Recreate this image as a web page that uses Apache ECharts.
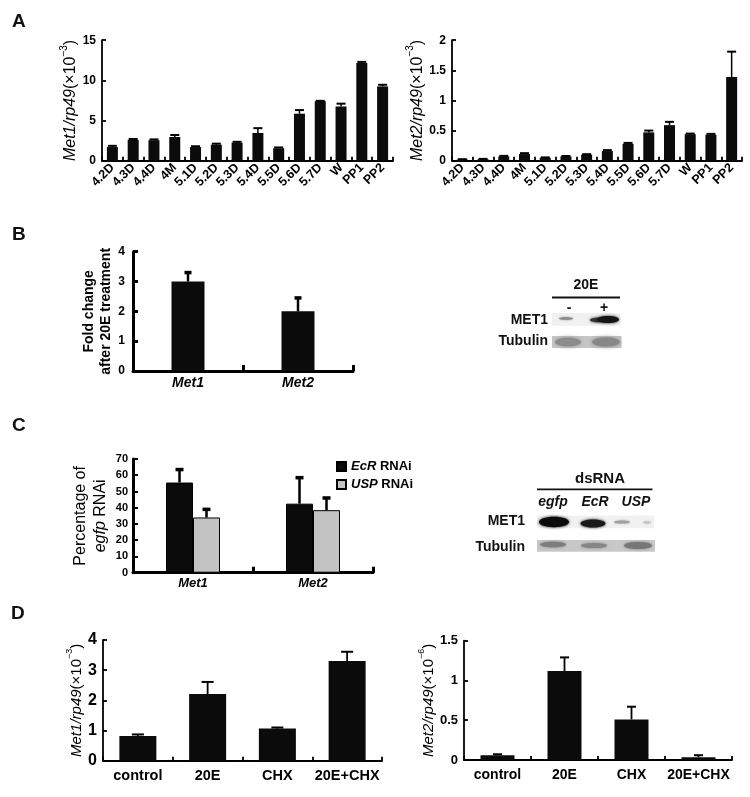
<!DOCTYPE html>
<html><head><meta charset="utf-8">
<script src="https://cdn.jsdelivr.net/npm/echarts@6/dist/echarts.min.js"></script>
<style>html,body{margin:0;padding:0;background:#fff}#c{width:750px;height:797px}</style>
</head><body><div id="c"></div>
<script>
// ---- data ----
const stages = ['4.2D','4.3D','4.4D','4M','5.1D','5.2D','5.3D','5.4D','5.5D','5.6D','5.7D','W','PP1','PP2'];
const met1Stage    = [1.7, 2.6, 2.55, 2.95, 1.7, 2.0, 2.25, 3.45, 1.55, 5.85, 7.4, 6.75, 12.15, 9.25];
const met1StageErr = [0.15, 0.1, 0.1, 0.25, 0.1, 0.12, 0.1, 0.6, 0.1, 0.45, 0.05, 0.35, 0.15, 0.2];
const met2Stage    = [0.02, 0.025, 0.07, 0.11, 0.05, 0.07, 0.1, 0.16, 0.28, 0.47, 0.59, 0.44, 0.43, 1.39];
const met2StageErr = [0.005, 0.005, 0.01, 0.015, 0.005, 0.008, 0.008, 0.015, 0.015, 0.03, 0.055, 0.01, 0.015, 0.42];
const genes = ['Met1','Met2'];
const foldChange    = [3.0, 2.0];
const foldChangeErr = [0.3, 0.45];
const ecrRNAi    = [55.5, 42.5];
const ecrRNAiErr = [8, 16];
const uspRNAi    = [34, 38.5];
const uspRNAiErr = [5, 7.5];
const treatments = ['control','20E','CHX','20E+CHX'];
const met1Treat    = [0.82, 2.21, 1.07, 3.3];
const met1TreatErr = [0.05, 0.4, 0.03, 0.31];
const met2Treat    = [0.06, 1.12, 0.51, 0.035];
const met2TreatErr = [0.012, 0.17, 0.16, 0.025];
const ticksA1 = [0, 5, 10, 15];
const ticksA2 = [0, 0.5, 1, 1.5, 2];
const ticksB  = [0, 1, 2, 3, 4];
const ticksC  = [0, 10, 20, 30, 40, 50, 60, 70];
const ticksD1 = [0, 1, 2, 3, 4];
const ticksD2 = [0, 0.5, 1, 1.5];

const FF = 'Liberation Sans, Arial, sans-serif';
const BLACK = '#0b0b0b';

function rng(t){ return {min:t[0], max:t[t.length-1], interval:t[1]-t[0]}; }

function yAxis(gi, ticks, o){
  const r = rng(ticks);
  return {
    type:'value', gridIndex:gi, min:r.min, max:r.max, interval:r.interval,
    splitLine:{show:false},
    axisLine:{show:true, lineStyle:{color:'#000', width:o.lw}},
    axisTick:{show:true, inside:true, length:o.tl||4, lineStyle:{color:'#000', width:o.tw||o.lw}},
    axisLabel:{color:'#000', fontFamily:FF, fontWeight:'bold', fontSize:o.fs, margin:o.lm||6},
    name:o.name, nameLocation:'middle', nameRotate:90, nameGap:o.ng,
    nameTextStyle:o.nts
  };
}
function xAxis(gi, cats, o){
  return {
    type:'category', gridIndex:gi, data:cats,
    axisLine:{show:true, lineStyle:{color:'#000', width:o.lw}},
    axisTick:{show:true, inside:true, length:o.tl||4, lineStyle:{color:'#000', width:o.tw||o.lw}},
    axisLabel:Object.assign({color:'#000', fontFamily:FF, fontWeight:'bold', fontSize:o.fs, margin:o.lm||6, interval:0}, o.lab||{})
  };
}
function ratioName(gene, exp){ return '{i|'+gene+'/rp49}{n|(×10}{s|−'+exp+'}{n|)}'; }
function ratioStyle(fs){
  return {
    color:'#000', fontFamily:FF, fontSize:fs,
    rich:{
      i:{fontStyle:'italic', fontSize:fs, fontFamily:FF, color:'#000', lineHeight:fs+4, verticalAlign:'bottom'},
      n:{fontSize:fs, fontFamily:FF, color:'#000', lineHeight:fs+4, verticalAlign:'bottom'},
      s:{fontSize:Math.round(fs*0.62), fontFamily:FF, color:'#000', lineHeight:fs+4, verticalAlign:'top'}
    }
  };
}
function errSeries(gi, vals, errs, o){
  return {
    type:'custom', xAxisIndex:gi, yAxisIndex:gi, silent:true, z:5,
    data: vals.map((v,i)=>[i, v, errs[i]]),
    encode:{x:0, y:1},
    renderItem:function(params, api){
      const i = api.value(0), v = api.value(1), e = api.value(2);
      const b = api.coord([i, v]); const t = api.coord([i, v + e]);
      const x = b[0] + (o.off||0);
      return {type:'group', children:[
        {type:'line', shape:{x1:x, y1:b[1], x2:x, y2:t[1]}, style:{stroke:'#000', lineWidth:o.lw}},
        {type:'line', shape:{x1:x-o.cap, y1:t[1], x2:x+o.cap, y2:t[1]}, style:{stroke:'#000', lineWidth:o.cw}}
      ]};
    }
  };
}

const grids = [
  {left:102, top:40.2, width:291, height:120.5},   // A1
  {left:452, top:40.2, width:290, height:120.5},   // A2
  {left:133, top:251.7, width:220, height:119.3},  // B
  {left:133, top:459, width:240, height:113.7},    // C
  {left:103, top:640, width:279, height:120.7},    // D1
  {left:464, top:640.7, width:268, height:119.3}   // D2
];

const xLabA = {rotate:45, fontSize:12.5, margin:5};
const xAxes = [
  xAxis(0, stages, {lw:1.8, fs:12.5, lab:xLabA}),
  xAxis(1, stages, {lw:1.8, fs:12.5, lab:xLabA}),
  xAxis(2, genes, {lw:3, tw:3, tl:6, fs:14, lm:5, lab:{fontStyle:'italic'}}),
  xAxis(3, genes, {lw:3, tw:3, tl:6, fs:13, lm:4, lab:{fontStyle:'italic'}}),
  xAxis(4, treatments, {lw:1.8, fs:14.5, lm:8}),
  xAxis(5, treatments, {lw:1.8, fs:14, lm:8})
];
const yAxes = [
  yAxis(0, ticksA1, {lw:1.8, fs:12, ng:16, name:ratioName('Met1','3'), nts:ratioStyle(16)}),
  yAxis(1, ticksA2, {lw:1.8, fs:12, ng:17, name:ratioName('Met2','3'), nts:ratioStyle(16)}),
  yAxis(2, ticksB, {lw:3, tw:3, tl:5, fs:12, lm:8, ng:16, name:'Fold change\nafter 20E treatment',
    nts:{fontFamily:FF, fontWeight:'bold', fontSize:14, color:'#000', lineHeight:17}}),
  yAxis(3, ticksC, {lw:3, tw:2, tl:5, fs:11, lm:5, ng:22, name:'Percentage of\n{i|egfp} RNAi',
    nts:{fontFamily:FF, fontSize:16, color:'#000', lineHeight:20,
      rich:{i:{fontFamily:FF, fontSize:16, fontStyle:'italic', color:'#000', lineHeight:20}}}}),
  yAxis(4, ticksD1, {lw:1.8, fs:16, ng:15, name:ratioName('Met1','3'), nts:ratioStyle(15)}),
  yAxis(5, ticksD2, {lw:1.8, fs:13, ng:18, name:ratioName('Met2','6'), nts:ratioStyle(15)})
];

const series = [
  {type:'bar', xAxisIndex:0, yAxisIndex:0, data:met1Stage, barWidth:11, itemStyle:{color:BLACK}},
  errSeries(0, met1Stage, met1StageErr, {lw:1.5, cap:4.5, cw:2}),
  {type:'bar', xAxisIndex:1, yAxisIndex:1, data:met2Stage, barWidth:11, itemStyle:{color:BLACK}},
  errSeries(1, met2Stage, met2StageErr, {lw:1.5, cap:4.5, cw:2}),
  {type:'bar', xAxisIndex:2, yAxisIndex:2, data:foldChange, barWidth:33, itemStyle:{color:BLACK}},
  errSeries(2, foldChange, foldChangeErr, {lw:2.5, cap:3.5, cw:3.5}),
  {type:'bar', name:'EcR RNAi', xAxisIndex:3, yAxisIndex:3, data:ecrRNAi, barWidth:27, barGap:'0%', itemStyle:{color:BLACK, borderColor:'#000', borderWidth:1}},
  {type:'bar', name:'USP RNAi', xAxisIndex:3, yAxisIndex:3, data:uspRNAi, barWidth:27, barGap:'0%', itemStyle:{color:'#c3c3c3', borderColor:'#000', borderWidth:1}},
  errSeries(3, ecrRNAi, ecrRNAiErr, {off:-13.5, lw:2.5, cap:4, cw:3.5}),
  errSeries(3, uspRNAi, uspRNAiErr, {off:13.5, lw:2.5, cap:4, cw:3.5}),
  {type:'bar', xAxisIndex:4, yAxisIndex:4, data:met1Treat, barWidth:37, itemStyle:{color:BLACK}},
  errSeries(4, met1Treat, met1TreatErr, {lw:1.8, cap:6, cw:2}),
  {type:'bar', xAxisIndex:5, yAxisIndex:5, data:met2Treat, barWidth:34, itemStyle:{color:BLACK}},
  errSeries(5, met2Treat, met2TreatErr, {lw:1.8, cap:4.5, cw:2})
];

function txt(x, y, s, font, align){
  return {type:'text', x:x, y:y, silent:true, style:{text:s, font:font, fill:'#111',
    textAlign:align||'center', textVerticalAlign:'middle', align:align||'center', verticalAlign:'middle'}};
}
function box(x, y, w, h, fill){ return {type:'rect', silent:true, shape:{x:x, y:y, width:w, height:h}, style:{fill:fill}}; }
function band(cx, cy, rx, ry, fill, blur){
  return {type:'ellipse', silent:true, shape:{cx:cx, cy:cy, rx:rx, ry:ry}, style:{fill:fill, shadowBlur:blur||3, shadowColor:fill}};
}
const B14 = 'bold 14px ' + FF;
const graphic = [
  txt(12, 21.5, 'A', 'bold 19px ' + FF, 'left'),
  txt(12, 235, 'B', 'bold 19px ' + FF, 'left'),
  txt(12, 426, 'C', 'bold 19px ' + FF, 'left'),
  txt(11, 614, 'D', 'bold 19px ' + FF, 'left'),
  // blot B
  txt(586, 285, '20E', B14),
  {type:'line', silent:true, shape:{x1:552, y1:297.5, x2:620, y2:297.5}, style:{stroke:'#111', lineWidth:1.8}},
  txt(569, 308, '-', B14), txt(604, 308, '+', B14),
  txt(548, 320, 'MET1', B14, 'right'),
  txt(548, 341.5, 'Tubulin', B14, 'right'),
  box(552, 313, 68.5, 12.7, '#f1f1f1'),
  band(566, 318.5, 7, 1.3, '#8a8a8a', 2),
  band(597, 320, 7, 2.2, '#333', 3),
  band(608, 319.5, 11, 3.6, '#151515', 3),
  box(552, 336, 69.5, 12, '#c6c6c6'),
  band(568, 342, 13, 4.3, '#8c8c8c', 4),
  band(606, 342, 14, 4.5, '#888', 4),
  // blot C
  txt(600, 479, 'dsRNA', 'bold 15px ' + FF),
  {type:'line', silent:true, shape:{x1:537, y1:489.3, x2:652.5, y2:489.3}, style:{stroke:'#111', lineWidth:1.8}},
  txt(553, 502.5, 'egfp', 'italic bold 14px ' + FF),
  txt(595, 502.5, 'EcR', 'italic bold 14px ' + FF),
  txt(636, 502.5, 'USP', 'italic bold 14px ' + FF),
  txt(525, 521.5, 'MET1', B14, 'right'),
  txt(525, 547, 'Tubulin', B14, 'right'),
  box(537, 515.5, 117, 12.8, '#f1f1f1'),
  band(554, 522, 15, 5.2, '#0c0c0c', 3),
  band(593, 523.5, 12.5, 4, '#1a1a1a', 3),
  band(622, 522, 8, 1.6, '#a0a0a0', 2),
  band(647, 522.5, 4, 1.2, '#c4c4c4', 2),
  box(537, 540, 118, 11.7, '#c8c8c8'),
  band(553, 544.5, 13, 2.8, '#7d7d7d', 3),
  band(594, 545.5, 13, 2.6, '#868686', 3),
  band(638, 545.5, 14, 3.6, '#777', 3)
];

const chart = echarts.init(document.getElementById('c'), null, {renderer:'canvas'});
chart.setOption({
  backgroundColor:'#fff',
  animation:false,
  grid:grids,
  xAxis:xAxes,
  yAxis:yAxes,
  legend:{
    data:['EcR RNAi','USP RNAi'], left:331, top:455, orient:'vertical',
    itemWidth:9, itemHeight:9, itemGap:5, icon:'rect', selectedMode:false,
    formatter:function(n){ return n==='EcR RNAi' ? '{i|EcR} RNAi' : '{i|USP} RNAi'; },
    textStyle:{fontFamily:FF, fontWeight:'bold', fontSize:13, color:'#000',
      rich:{i:{fontFamily:FF, fontWeight:'bold', fontStyle:'italic', fontSize:13, color:'#000'}}}
  },
  series:series,
  graphic:graphic
});
</script></body></html>
